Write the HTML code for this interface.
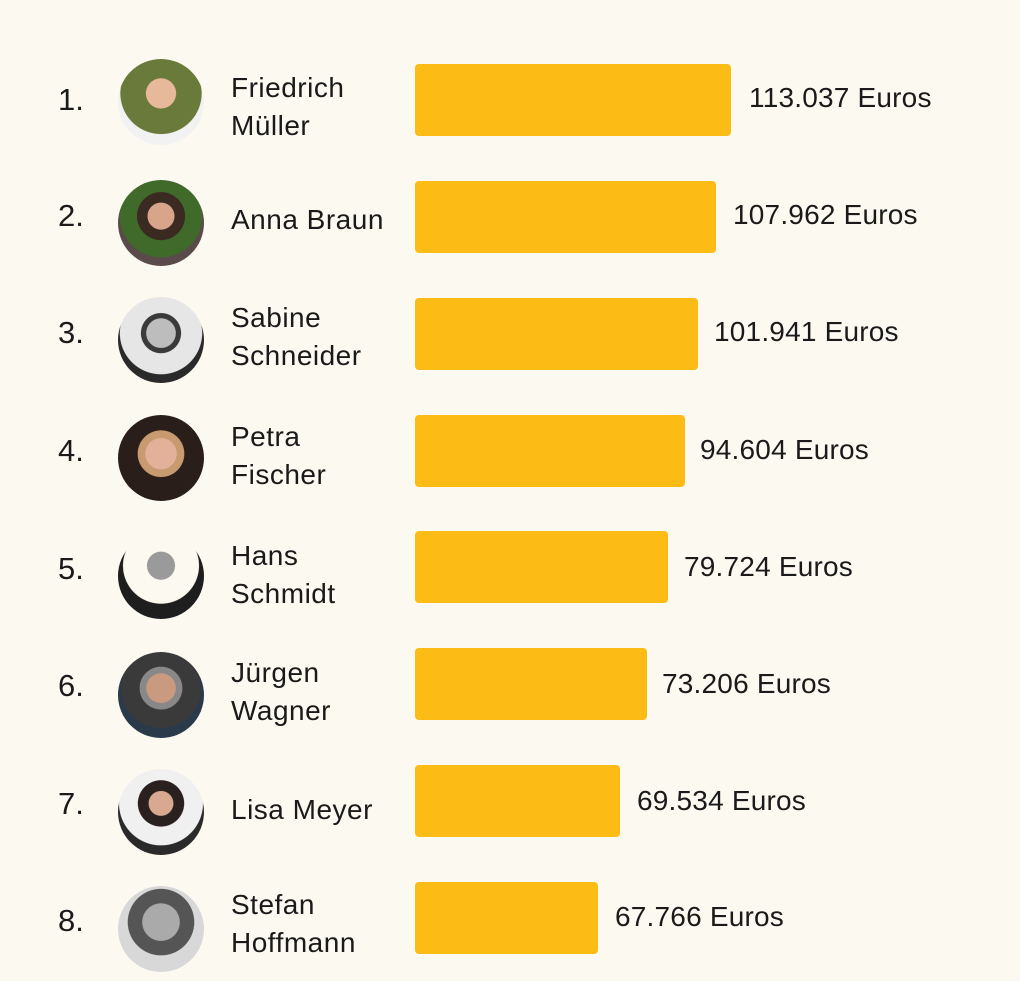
<!DOCTYPE html>
<html><head><meta charset="utf-8"><style>
html,body{margin:0;padding:0;}
body{width:1020px;height:981px;background:#fcf9f1;position:relative;overflow:hidden;font-family:"Liberation Sans","DejaVu Sans",sans-serif;color:#1a1a1a;}
.n{position:absolute;left:58px;font-size:31px;line-height:36px;}
.a{position:absolute;left:118px;width:86px;height:86px;border-radius:50%;overflow:hidden;}
.nm{position:absolute;left:231px;font-size:28px;line-height:38px;letter-spacing:0.5px;}
.b{position:absolute;left:415px;height:72px;background:#fcbc15;border-radius:4px;}
.v{position:absolute;font-size:28px;line-height:36px;letter-spacing:0.2px;}
</style></head><body>
<div class="n" style="top:82px">1.</div>
<div class="a" style="top:59px;background:radial-gradient(circle at 50% 40%,#e8b89a 0 22%,#6a7a3a 23% 60%,#f2f2f2 61%)"></div>
<div class="nm" style="top:69px">Friedrich<br>Müller</div>
<div class="b" style="top:64px;width:316px"></div>
<div class="v" style="left:749px;top:80px">113.037 Euros</div>

<div class="n" style="top:198px">2.</div>
<div class="a" style="top:180px;background:radial-gradient(circle at 50% 42%,#d9a58a 0 20%,#3a2a22 21% 36%,#3f6a2a 37% 62%,#5a4a4a 63%)"></div>
<div class="nm" style="top:201px">Anna Braun</div>
<div class="b" style="top:181px;width:301px"></div>
<div class="v" style="left:733px;top:197px">107.962 Euros</div>

<div class="n" style="top:315px">3.</div>
<div class="a" style="top:297px;background:radial-gradient(circle at 50% 42%,#bdbdbd 0 22%,#3a3a3a 23% 30%,#e6e6e6 31% 62%,#2a2a2a 63%)"></div>
<div class="nm" style="top:299px">Sabine<br>Schneider</div>
<div class="b" style="top:298px;width:283px"></div>
<div class="v" style="left:714px;top:314px">101.941 Euros</div>

<div class="n" style="top:433px">4.</div>
<div class="a" style="top:415px;background:radial-gradient(circle at 50% 45%,#e3b09a 0 24%,#c89a70 25% 36%,#2a1e1a 37%)"></div>
<div class="nm" style="top:418px">Petra<br>Fischer</div>
<div class="b" style="top:415px;width:270px"></div>
<div class="v" style="left:700px;top:432px">94.604 Euros</div>

<div class="n" style="top:551px">5.</div>
<div class="a" style="top:533px;background:radial-gradient(circle at 50% 38%,#9a9a9a 0 20%,#fcf9f1 21% 55%,#1e1e1e 56%)"></div>
<div class="nm" style="top:537px">Hans<br>Schmidt</div>
<div class="b" style="top:531px;width:253px"></div>
<div class="v" style="left:684px;top:549px">79.724 Euros</div>

<div class="n" style="top:668px">6.</div>
<div class="a" style="top:652px;background:radial-gradient(circle at 50% 42%,#c99a80 0 22%,#888 23% 32%,#3a3a3a 33% 60%,#2a3a4a 61%)"></div>
<div class="nm" style="top:654px">Jürgen<br>Wagner</div>
<div class="b" style="top:648px;width:232px"></div>
<div class="v" style="left:662px;top:666px">73.206 Euros</div>

<div class="n" style="top:786px">7.</div>
<div class="a" style="top:769px;background:radial-gradient(circle at 50% 40%,#d8a890 0 18%,#2a2020 19% 34%,#f0f0f0 35% 62%,#2a2a2a 63%)"></div>
<div class="nm" style="top:791px">Lisa Meyer</div>
<div class="b" style="top:765px;width:205px"></div>
<div class="v" style="left:637px;top:783px">69.534 Euros</div>

<div class="n" style="top:903px">8.</div>
<div class="a" style="top:886px;background:radial-gradient(circle at 50% 42%,#aaa 0 28%,#555 29% 50%,#d8d8d8 51%)"></div>
<div class="nm" style="top:886px">Stefan<br>Hoffmann</div>
<div class="b" style="top:882px;width:183px"></div>
<div class="v" style="left:615px;top:899px">67.766 Euros</div>
</body></html>
